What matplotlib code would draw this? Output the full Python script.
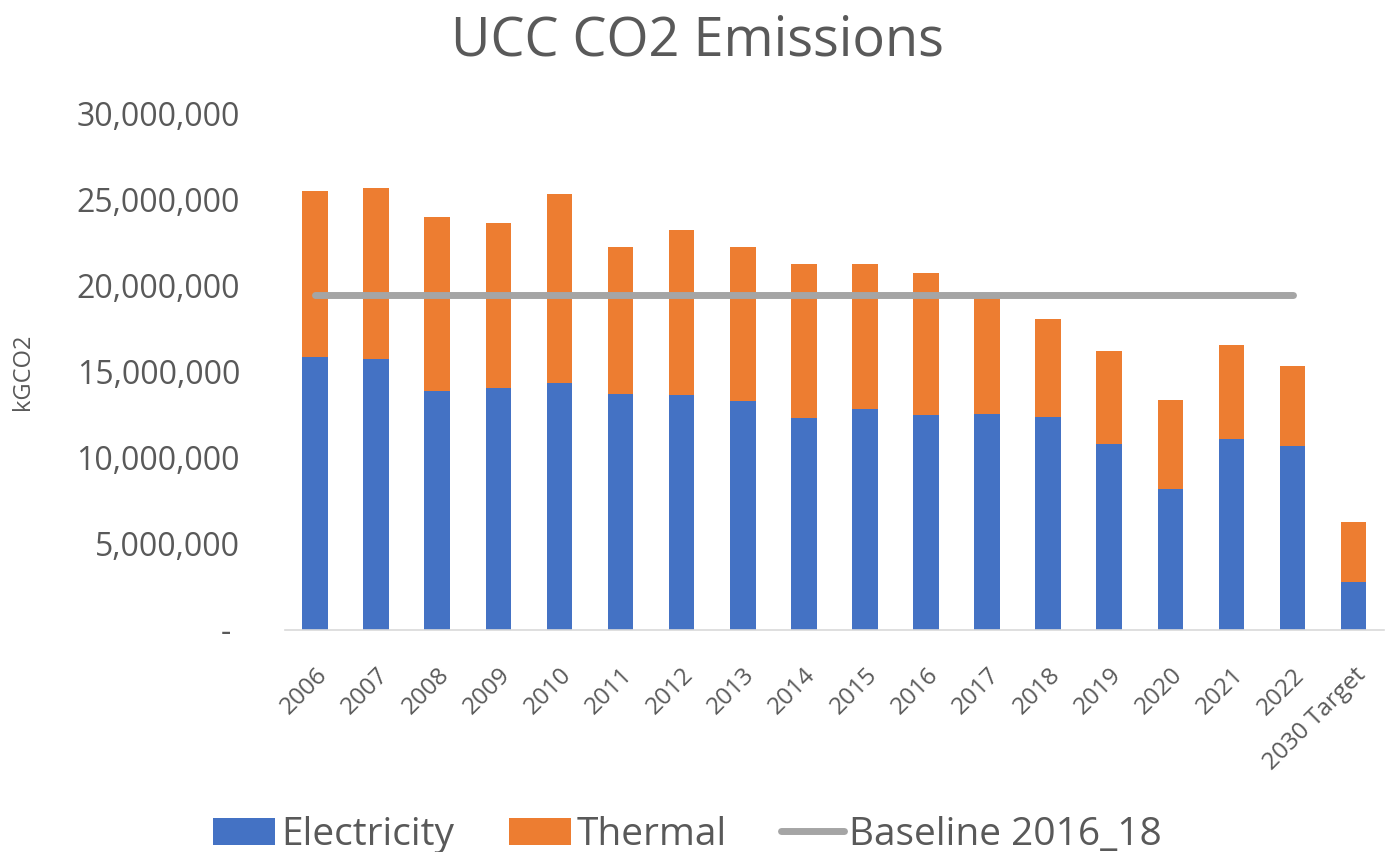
import matplotlib.pyplot as plt
from matplotlib.ticker import FuncFormatter

# values (kgCO2)
years = ['2006', '2007', '2008', '2009', '2010', '2011', '2012', '2013', '2014',
         '2015', '2016', '2017', '2018', '2019', '2020', '2021', '2022', '2030 Target']
electricity = [15.83e6, 15.75e6, 13.89e6, 14.06e6, 14.34e6, 13.72e6, 13.62e6, 13.27e6, 12.28e6,
               12.81e6, 12.48e6, 12.56e6, 12.38e6, 10.80e6, 8.20e6, 11.07e6, 10.70e6, 2.78e6]
total = [25.50e6, 25.69e6, 23.99e6, 23.64e6, 25.32e6, 22.21e6, 23.20e6, 22.21e6, 21.24e6,
         21.24e6, 20.70e6, 19.40e6, 18.05e6, 16.19e6, 13.33e6, 16.54e6, 15.30e6, 6.25e6]
thermal = [t - e for t, e in zip(total, electricity)]
baseline = 19.45e6
baseline_years = years[:17]

plt.rcParams['font.family'] = ['Open Sans', 'DejaVu Sans']
txt = '#595959'

fig = plt.figure(figsize=(13.92, 8.52), dpi=100)
ax = fig.add_axes([0.2044, 0.2606, 0.790, 0.6064])

x = list(range(len(years)))
b1 = ax.bar(x, electricity, width=0.42, color='#4472C4', label='Electricity', zorder=2)
b2 = ax.bar(x, thermal, width=0.42, bottom=electricity, color='#ED7D31', label='Thermal', zorder=2)
ln, = ax.plot(x[:len(baseline_years)], [baseline] * len(baseline_years), color='#A5A5A5',
              lw=5, solid_capstyle='round', label='Baseline 2016_18', zorder=3)

ax.set_xlim(-0.5, len(years) - 0.5)
ax.set_ylim(0, 30e6)
ax.set_yticks([0, 5e6, 10e6, 15e6, 20e6, 25e6, 30e6])
ax.yaxis.set_major_formatter(FuncFormatter(lambda v, p: '- ' if v == 0 else f'{v:,.0f}'))
ax.set_xticks(x)
ax.set_xticklabels(years, rotation=45, ha='right', rotation_mode='anchor')
ax.tick_params(axis='y', length=0, labelsize=23, colors=txt, pad=32)
ax.tick_params(axis='x', length=0, labelsize=17.5, colors=txt, pad=24)

for s in ['top', 'right', 'left']:
    ax.spines[s].set_visible(False)
ax.spines['bottom'].set_color('#D9D9D9')
ax.spines['bottom'].set_linewidth(1.2)

ax.set_ylabel('kGCO2', fontsize=17, color=txt)
ax.yaxis.set_label_coords(-0.2265, 0.5)
fig.text(0.501, 0.952, 'UCC CO2 Emissions', ha='center', va='center', fontsize=39, color=txt)

fig.legend([b1, b2, ln], ['Electricity', 'Thermal', 'Baseline 2016_18'],
           loc='center', bbox_to_anchor=(0.494, 0.02), ncol=3, frameon=False,
           fontsize=28, labelcolor=txt, handlelength=1.6, handletextpad=0.15, columnspacing=1.4)

plt.savefig('out.png', dpi=100)
